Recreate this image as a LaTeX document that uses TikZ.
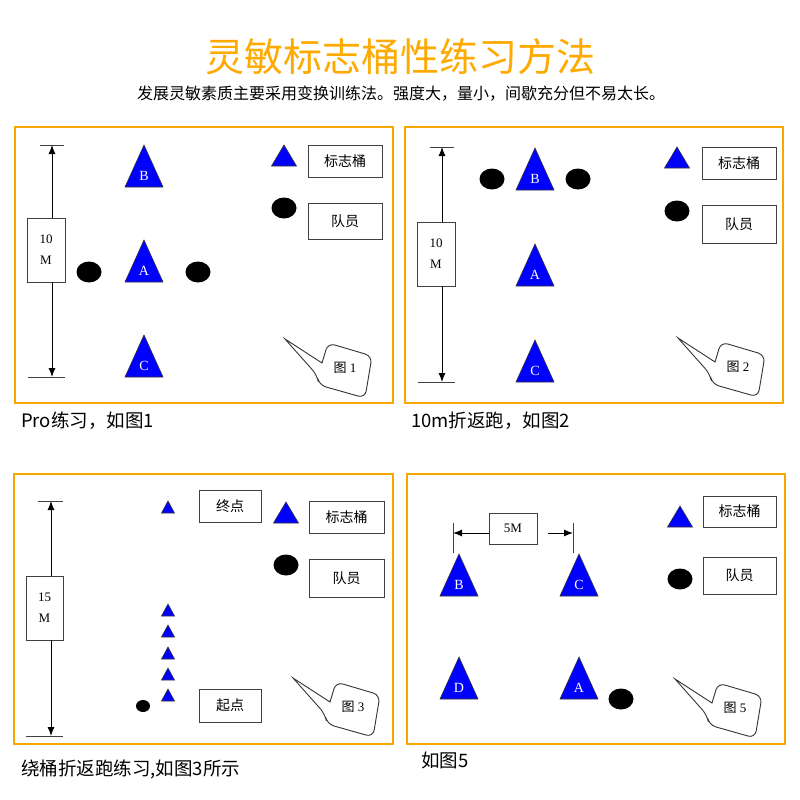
\documentclass[tikz,border=0pt]{standalone}
\usepackage{fontspec}
\setmainfont{Liberation Serif}
\newfontfamily\cjk{Noto Sans CJK SC}
\usetikzlibrary{shapes.geometric,arrows.meta}
\definecolor{panelorange}{RGB}{247,168,0}
\definecolor{titleorange}{RGB}{255,170,0}
\definecolor{coneblue}{RGB}{0,0,255}
\tikzset{
 panel/.style={draw=panelorange,line width=2.4pt},
 cone/.style={fill=coneblue,draw=black!80,line width=0.6pt},
 conelabel/.style={text=white,font=\fontsize{14}{14}\selectfont,inner sep=0},
 player/.style={ellipse,fill=black,minimum width=25pt,minimum height=21pt,inner sep=0},
 smallplayer/.style={ellipse,fill=black,minimum width=14pt,minimum height=12pt,inner sep=0},
 legbox/.style={draw=black!75,line width=0.9pt,minimum width=74pt,minimum height=32pt,font=\cjk\fontsize{14}{14}\selectfont,inner sep=0},
 dimbox/.style={draw=black!75,line width=0.9pt,minimum width=38pt,minimum height=64pt,align=center,font=\fontsize{13}{21}\selectfont,inner sep=0},
 dimline/.style={line width=0.9pt,black!75},
 dimarrow/.style={line width=1pt,-{Latex[length=9pt,width=7pt]}},
 bubble/.style={draw=black!80,line width=0.9pt,fill=white},
 caption/.style={anchor=west,font=\cjk\fontsize{18.5}{18.5}\selectfont,inner sep=0},
}
\newcommand{\bigcone}[4]{\filldraw[cone] ({#2-19},#3) -- (#2,{#3-42}) -- ({#2+19},#3) -- cycle; \node[conelabel] (#1) at (#2,{#3-11}) {#4};}
\newcommand{\legcone}[3]{\filldraw[cone] ({#2-12.5},#3) -- (#2,{#3-21}) -- ({#2+12.5},#3) -- cycle; \coordinate (#1) at (#2,#3);}
\newcommand{\tinycone}[3]{\filldraw[cone] ({#2-6.5},#3) -- (#2,{#3-12}) -- ({#2+6.5},#3) -- cycle; \coordinate (#1) at (#2,#3);}
\newcommand{\bubblefig}[4]{\begin{scope}[shift={(#2,#3)}]
 \coordinate (#1tip) at (0,0);
 \draw[bubble] (0,0) -- (37,24) [rounded corners=7pt] -- (43,4) -- (87,17) -- (80,59) -- (34,46) -- (32,36) [sharp corners] -- cycle;
 \node[font=\fontsize{13}{13}\selectfont,inner sep=0] (#1) at (60,29) {{\cjk 图} #4};
\end{scope}}
\begin{document}
\begin{tikzpicture}[x=1pt,y=-1pt]
\useasboundingbox (0,0) rectangle (800,800);
\fill[white] (0,0) rectangle (800,800);
% title
\node[font=\cjk\fontsize{39}{39}\selectfont,text=titleorange] (title) at (400,57) {灵敏标志桶性练习方法};
\node[font=\cjk\fontsize{16}{16}\selectfont] (sub) at (401,94) {发展灵敏素质主要采用变换训练法。强度大，量小，间歇充分但不易太长。};
% panels
\draw[panel] (15,127) rectangle (393,403);
\draw[panel] (405,127) rectangle (783,403);
\draw[panel] (14,474) rectangle (393,744);
\draw[panel] (407,474) rectangle (785,744);

% ---------- panel 1
\coordinate (d1top) at (52,145);
\coordinate (d1bot) at (52,377);
\draw[dimline] (40,145) -- (64,145);
\draw[dimline] (28,377) -- (65,377);
\node[dimbox] (d1) at (46,250) {10\\M};
\draw[dimarrow] (d1top |- d1.north) -- (d1top);
\draw[dimarrow] (d1bot |- d1.south) -- (d1bot);
\bigcone{c1B}{144}{187}{B}
\bigcone{c1A}{144}{282}{A}
\bigcone{c1C}{144}{377}{C}
\node[player] (p1a) at (89,272) {};
\node[player] (p1b) at (198,272) {};
\legcone{l1c}{284}{166}
\node[legbox] (l1box) at (345,161) {标志桶};
\node[player] (l1p) at (284,208) {};
\node[legbox,minimum height=36pt] (l1pbox) at (345,221) {队员};
\bubblefig{f1}{285}{339}{1}
\node[caption] (cap1) at (21,421) {Pro练习，如图1};

% ---------- panel 2
\coordinate (d2top) at (442,147);
\coordinate (d2bot) at (442,382);
\draw[dimline] (430,147) -- (454,147);
\draw[dimline] (418,382) -- (455,382);
\node[dimbox] (d2) at (436,254) {10\\M};
\draw[dimarrow] (d2top |- d2.north) -- (d2top);
\draw[dimarrow] (d2bot |- d2.south) -- (d2bot);
\bigcone{c2B}{535}{190}{B}
\bigcone{c2A}{535}{286}{A}
\bigcone{c2C}{535}{382}{C}
\node[player] (p2a) at (492,179) {};
\node[player] (p2b) at (578,179) {};
\legcone{l2c}{677}{168}
\node[legbox] (l2box) at (739,163) {标志桶};
\node[player] (l2p) at (677,211) {};
\node[legbox,minimum height=38pt] (l2pbox) at (739,224) {队员};
\bubblefig{f2}{678}{338}{2}
\node[caption] (cap2) at (411,421) {10m折返跑，如图2};

% ---------- panel 3
\coordinate (d3top) at (51,501);
\coordinate (d3bot) at (51,736);
\draw[dimline] (38,501) -- (63,501);
\draw[dimline] (26,736) -- (63,736);
\node[dimbox,minimum width=37pt] (d3) at (44.5,608) {15\\M};
\draw[dimarrow] (d3top |- d3.north) -- (d3top);
\draw[dimarrow] (d3bot |- d3.south) -- (d3bot);
\tinycone{t3a}{168}{513}
\tinycone{t3b}{168}{616}
\tinycone{t3c}{168}{637}
\tinycone{t3d}{168}{659}
\tinycone{t3e}{168}{680}
\tinycone{t3f}{168}{701}
\node[smallplayer] (p3) at (143,706) {};
\node[legbox,minimum width=62pt] (end3) at (230,506) {终点};
\node[legbox,minimum width=62pt,minimum height=33pt] (start3) at (230,705.5) {起点};
\legcone{l3c}{286}{523}
\node[legbox,minimum width=75pt] (l3box) at (346.5,517) {标志桶};
\node[player] (l3p) at (286,565) {};
\node[legbox,minimum width=75pt,minimum height=38pt] (l3pbox) at (346.5,578) {队员};
\bubblefig{f3}{293}{678}{3}
\node[caption] (cap3) at (21,769) {绕桶折返跑练习,如图3所示};

% ---------- panel 4
\coordinate (m4l) at (453,533);
\coordinate (m4r) at (573,533);
\coordinate (m4rs) at (548,533);
\draw[dimline] (453,523) -- (453,553);
\draw[dimline] (573,523) -- (573,553);
\node[legbox,minimum width=48pt,minimum height=31pt,font=\fontsize{13}{13}\selectfont] (m4) at (513,528.5) {5M};
\draw[dimarrow] (m4l -| m4.west) -- (m4l);
\draw[dimarrow] (m4rs) -- (m4r);
\bigcone{c4B}{459}{596}{B}
\bigcone{c4C}{579}{596}{C}
\bigcone{c4D}{459}{699}{D}
\bigcone{c4A}{579}{699}{A}
\node[player] (p4) at (621,699) {};
\legcone{l4c}{680}{527}
\node[legbox,minimum width=73pt,minimum height=31pt] (l4box) at (739.5,511.5) {标志桶};
\node[player] (l4p) at (680,579) {};
\node[legbox,minimum width=73pt,minimum height=37pt] (l4pbox) at (739.5,575.5) {队员};
\bubblefig{f4}{675}{679}{5}
\node[caption] (cap4) at (421,760) {如图5};
\end{tikzpicture}
\end{document}
